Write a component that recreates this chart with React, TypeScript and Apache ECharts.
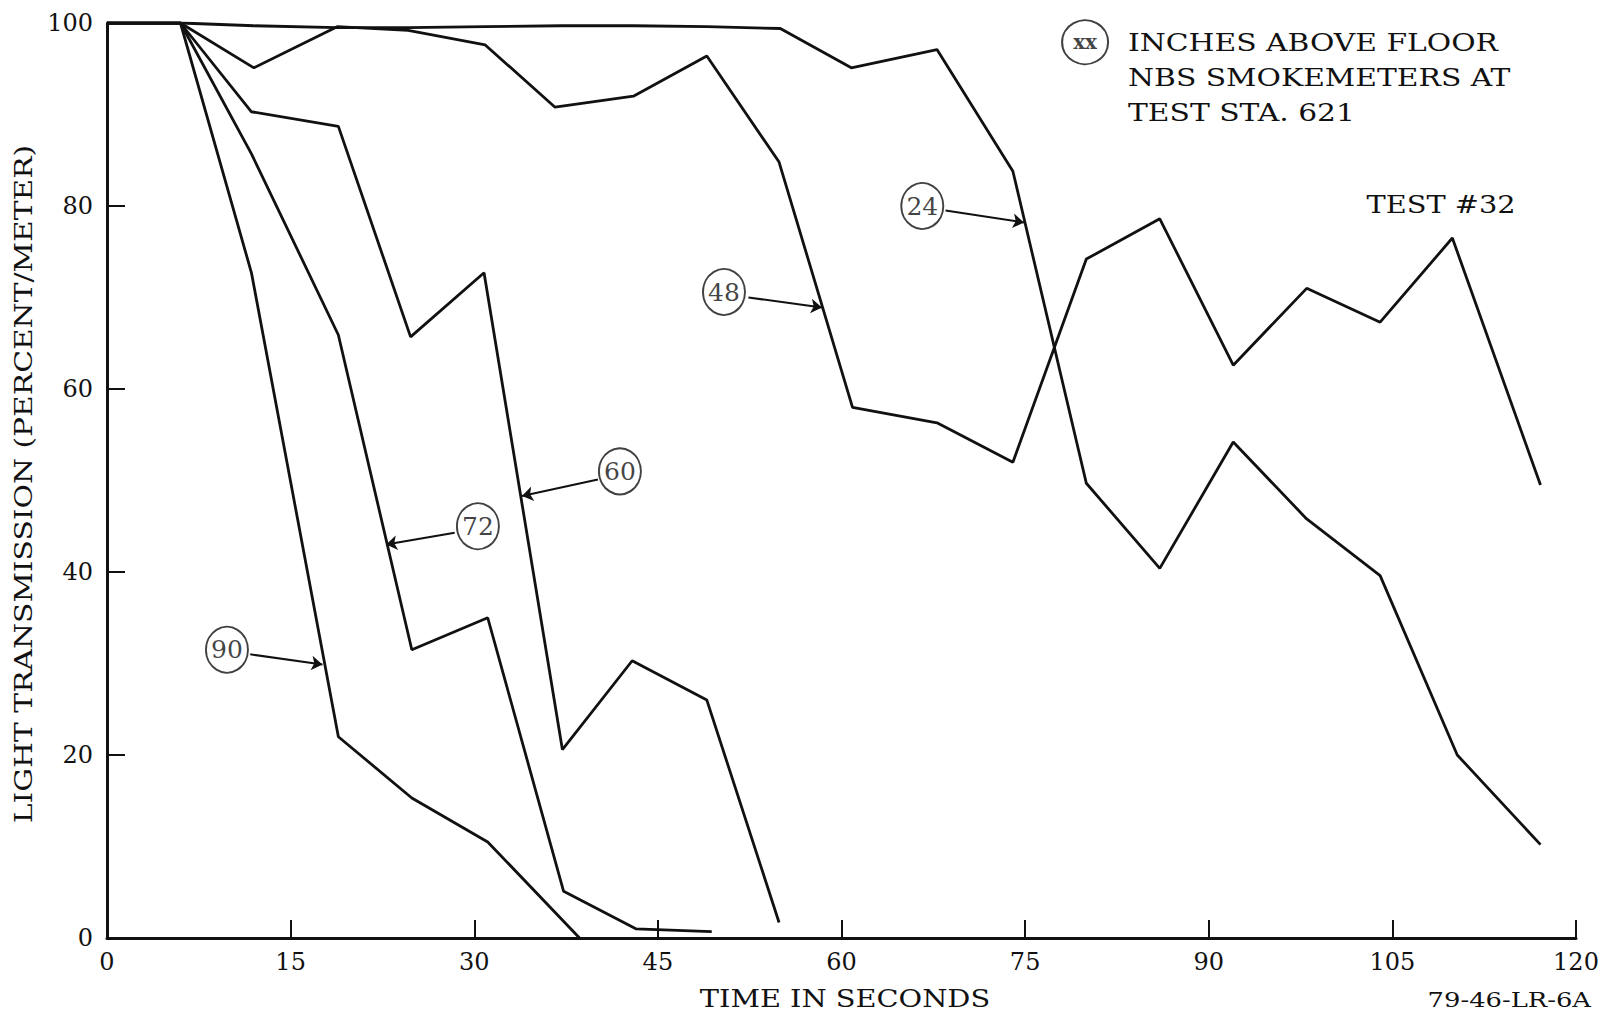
import React, { useEffect, useRef } from "react";
import * as echarts from "echarts";

// ---- data (time in seconds, light transmission in percent/meter) ----
const t24 = [0, 6, 12, 18.8, 24.6, 30.9, 37.1, 43, 49, 55, 60.8, 67.8, 74, 80, 86, 92, 98, 104, 110.3, 117.1];
const v24 = [100, 100, 99.7, 99.5, 99.5, 99.6, 99.7, 99.7, 99.6, 99.4, 95.1, 97.1, 83.8, 49.7, 40.4, 54.2, 45.8, 39.6, 20.0, 10.2];

const t48 = [0, 6, 12, 18.8, 24.6, 30.9, 36.6, 43, 49, 54.9, 60.9, 67.8, 74, 80, 86, 92, 98, 104, 109.9, 117.1];
const v48 = [100, 100, 95.1, 99.6, 99.2, 97.6, 90.8, 92.0, 96.4, 84.8, 58.0, 56.3, 52.0, 74.2, 78.6, 62.6, 71.0, 67.3, 76.5, 49.5];

const t60 = [0, 6, 11.8, 18.9, 24.8, 30.8, 37.2, 42.9, 49, 54.9];
const v60 = [100, 100, 90.3, 88.7, 65.7, 72.7, 20.6, 30.3, 26.0, 1.7];

const t72 = [0, 6, 11.8, 18.9, 24.9, 31.1, 37.3, 43.2, 49.4];
const v72 = [100, 100, 85.7, 65.9, 31.5, 35.0, 5.1, 1.0, 0.7];

const t90 = [0, 6, 11.8, 18.9, 24.9, 31.1, 38.6];
const v90 = [100, 100, 72.7, 22.0, 15.3, 10.5, 0];

const seriesNames = ["24", "48", "60", "72", "90"];
const seriesTimes = [t24, t48, t60, t72, t90];
const seriesValues = [v24, v48, v60, v72, v90];

// circled callouts (label, position in data units)
const calloutNames = ["24", "48", "60", "72", "90", "xx"];
const calloutX = [66.6, 50.4, 41.9, 30.3, 9.8, 79.9];
const calloutY = [80.0, 70.6, 51.0, 45.0, 31.5, 97.9];

// arrows from callout to line (data units)
const arrowFrom = [[68.5, 79.5], [52.4, 70.0], [40.1, 50.1], [28.4, 44.3], [11.7, 31.0]];
const arrowTo = [[74.9, 78.2], [58.4, 68.9], [33.9, 48.3], [22.8, 43.0], [17.6, 29.9]];

const xTicks = [0, 15, 30, 45, 60, 75, 90, 105, 120];
const yTicks = [0, 20, 40, 60, 80, 100];

const legendLines = ["INCHES ABOVE FLOOR", "NBS SMOKEMETERS AT", "TEST STA. 621"];

const FONT = '"DejaVu Serif", "Liberation Serif", serif';
const INK = "#111";

function buildOption(): any {
  const lineSeries = seriesNames.map((name, i) => ({
    name,
    type: "line",
    data: seriesTimes[i].map((t, j) => [t, seriesValues[i][j]]),
    showSymbol: false,
    symbol: "none",
    lineStyle: { color: INK, width: 2.8 },
    z: 2,
  }));

  const calloutSeries = {
    name: "callouts",
    type: "scatter",
    z: 5,
    data: calloutNames.map((n, i) => ({
      name: n,
      value: [calloutX[i], calloutY[i]],
      symbolSize: n === "xx" ? [46, 44] : [42, 46],
      label: n === "xx" ? { fontSize: 20, fontWeight: "bold" } : undefined,
    })),
    symbol: "circle",
    itemStyle: { color: "#fff", borderColor: INK, borderWidth: 2 },
    label: {
      show: true,
      position: "inside",
      formatter: "{b}",
      color: INK,
      fontFamily: FONT,
      fontSize: 25,
    },
    emphasis: { disabled: true },
    markLine: {
      silent: true,
      symbol: ["none", "arrow"],
      symbolSize: 11,
      label: { show: false },
      lineStyle: { color: INK, width: 2, type: "solid" },
      emphasis: { disabled: true },
      data: arrowFrom.map((f, i) => [{ coord: f }, { coord: arrowTo[i] }]),
    },
  };

  const legendGraphics = legendLines.map((txt, i) => ({
    type: "text",
    x: 1128,
    y: 43 + i * 35,
    scaleX: 1.24,
    style: {
      text: txt,
      fill: INK,
      font: `24px ${FONT}`,
      textAlign: "left",
      textVerticalAlign: "middle",
    },
  }));

  return {
    animation: false,
    backgroundColor: "#fff",
    grid: { left: 107, right: 37, top: 23, bottom: 74, containLabel: false },
    xAxis: {
      type: "value",
      min: xTicks[0],
      max: xTicks[xTicks.length - 1],
      interval: 15,
      axisLine: { show: true, lineStyle: { color: INK, width: 3 } },
      axisTick: { show: true, inside: true, length: 18, lineStyle: { color: INK, width: 2 } },
      axisLabel: { color: INK, fontFamily: FONT, fontSize: 24, margin: 12 },
      splitLine: { show: false },
    },
    yAxis: {
      type: "value",
      min: yTicks[0],
      max: yTicks[yTicks.length - 1],
      interval: 20,
      axisLine: { show: true, lineStyle: { color: INK, width: 3 } },
      axisTick: { show: true, inside: true, length: 18, lineStyle: { color: INK, width: 2 } },
      axisLabel: { color: INK, fontFamily: FONT, fontSize: 24, margin: 14 },
      splitLine: { show: false },
    },
    series: [...lineSeries, calloutSeries],
    graphic: [
      ...legendGraphics,
      {
        type: "text",
        x: 1441,
        y: 204,
        scaleX: 1.2,
        style: { text: "TEST #32", fill: INK, font: `24px ${FONT}`, textAlign: "center", textVerticalAlign: "middle" },
      },
      {
        type: "text",
        x: 845,
        y: 998,
        scaleX: 1.2,
        style: { text: "TIME IN SECONDS", fill: INK, font: `24px ${FONT}`, textAlign: "center", textVerticalAlign: "middle" },
      },
      {
        type: "text",
        x: 23,
        y: 484,
        rotation: Math.PI / 2,
        scaleX: 1.19,
        style: {
          text: "LIGHT TRANSMISSION (PERCENT/METER)",
          fill: INK,
          font: `25px ${FONT}`,
          textAlign: "center",
          textVerticalAlign: "middle",
        },
      },
      {
        type: "text",
        x: 1591,
        y: 1000,
        scaleX: 1.29,
        style: { text: "79-46-LR-6A", fill: INK, font: `20px ${FONT}`, textAlign: "right", textVerticalAlign: "middle" },
      },
    ],
  };
}

export default function App() {
  const ref = useRef<HTMLDivElement>(null);
  useEffect(() => {
    if (!ref.current) return;
    const chart = echarts.init(ref.current, null, { renderer: "svg" });
    chart.setOption(buildOption());
    return () => chart.dispose();
  }, []);
  return (
    <div
      ref={ref}
      style={{ position: "fixed", left: 0, top: 0, width: 1613, height: 1012, background: "#fff" }}
    />
  );
}
